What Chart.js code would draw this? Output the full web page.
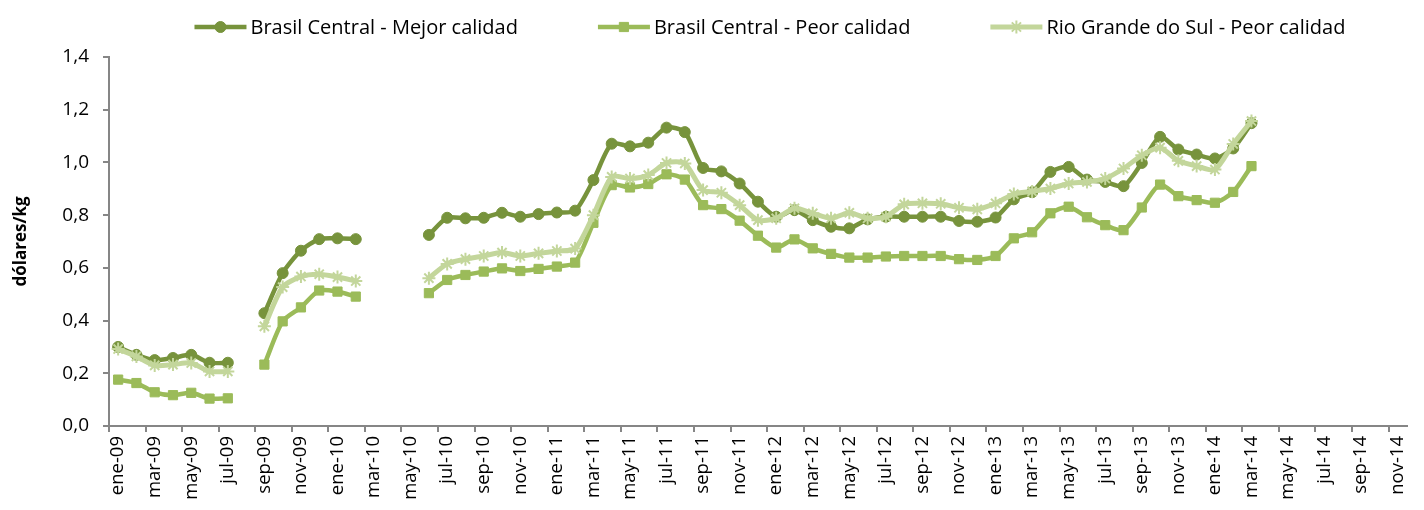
<!DOCTYPE html>
<html>
<head>
<meta charset="utf-8">
<script src="https://cdn.jsdelivr.net/npm/chart.js@4"></script>
<style>
  html, body { margin: 0; padding: 0; background: #fff; }
  #wrap { width: 1424px; height: 510px; }
</style>
</head>
<body>
<div id="wrap"><canvas id="chart" width="1424" height="510"></canvas></div>
<script>
// months ene-09 .. nov-14
var mesesCortos = ['ene','feb','mar','abr','may','jun','jul','ago','sep','oct','nov','dic'];
var anios = ['09','10','11','12','13','14'];
var meses = [];
for (var a = 0; a < anios.length; a++) {
    for (var m = 0; m < 12; m++) {
        meses.push(mesesCortos[m] + '-' + anios[a]);
    }
}
meses = meses.slice(0, 71);

var seriesNombres = ['Brasil Central - Mejor calidad', 'Brasil Central - Peor calidad', 'Rio Grande do Sul - Peor calidad'];

var bcMejor = [0.30,0.27,0.25,0.258,0.27,0.24,0.24,null,0.428,0.58,0.665,0.709,0.712,0.709,null,null,null,
    0.725,0.79,0.788,0.79,0.809,0.794,0.804,0.81,0.817,0.933,1.071,1.061,1.075,1.132,1.115,0.979,0.966,0.92,0.851,
    0.794,0.819,0.781,0.756,0.75,0.784,0.794,0.794,0.794,0.794,0.778,0.775,0.791,0.86,0.887,0.964,0.983,0.935,
    0.926,0.91,0.998,1.097,1.049,1.03,1.015,1.053,1.149,null,null,null,null,null,null,null,null];

var bcPeor = [0.176,0.163,0.128,0.117,0.126,0.104,0.105,null,0.233,0.397,0.45,0.514,0.51,0.491,null,null,null,
    0.504,0.554,0.573,0.586,0.598,0.588,0.596,0.605,0.62,0.771,0.914,0.905,0.918,0.955,0.935,0.838,0.823,0.779,0.722,
    0.677,0.708,0.674,0.653,0.639,0.639,0.643,0.645,0.645,0.645,0.633,0.63,0.645,0.712,0.735,0.807,0.832,0.792,
    0.762,0.743,0.829,0.916,0.872,0.857,0.847,0.888,0.986,null,null,null,null,null,null,null,null];

var rgsPeor = [0.292,0.264,0.23,0.233,0.239,0.207,0.207,null,0.378,0.527,0.567,0.576,0.565,0.55,null,null,null,
    0.561,0.615,0.633,0.645,0.658,0.645,0.655,0.664,0.673,0.80,0.945,0.939,0.952,0.998,0.996,0.895,0.885,0.838,0.781,
    0.788,0.826,0.807,0.788,0.809,0.788,0.794,0.841,0.845,0.843,0.828,0.822,0.845,0.88,0.89,0.901,0.92,0.926,
    0.939,0.977,1.027,1.056,1.006,0.986,0.973,1.07,1.157,null,null,null,null,null,null,null,null];

var colores = ['#77933C', '#9BBB59', '#C3D69B'];
var FONT = '"Open Sans", sans-serif';
var GRIS = '#868686';

// Excel-like legend: line with the marker in the middle, then the text
var excelLegend = {
    id: 'excelLegend',
    afterDraw: function(chart) {
        var ctx = chart.ctx;
        var lineLen = 52, gapText = 4, gapItem = 80;
        ctx.save();
        ctx.font = '20px ' + FONT;
        var items = chart.data.datasets.map(function(ds) {
            return { ds: ds, w: ctx.measureText(ds.label).width };
        });
        var total = 0;
        items.forEach(function(it, i) {
            total += lineLen + gapText + it.w + (i < items.length - 1 ? gapItem : 0);
        });
        var area = chart.chartArea;
        var x = (area.left + area.right) / 2 + 12 - total / 2;
        var y = 27;
        items.forEach(function(it) {
            var ds = it.ds;
            ctx.strokeStyle = ds.borderColor;
            ctx.lineWidth = ds.borderWidth;
            ctx.beginPath();
            ctx.moveTo(x, y);
            ctx.lineTo(x + lineLen, y);
            ctx.stroke();
            ctx.fillStyle = ds.pointBackgroundColor;
            ctx.strokeStyle = ds.pointBorderColor;
            ctx.lineWidth = ds.pointBorderWidth;
            Chart.helpers.drawPoint(ctx, {
                pointStyle: ds.pointStyle,
                radius: ds.pointRadius,
                borderWidth: ds.pointBorderWidth
            }, x + lineLen / 2, y);
            ctx.fillStyle = '#000';
            ctx.textBaseline = 'middle';
            ctx.fillText(ds.label, x + lineLen + gapText, y + 1);
            x += lineLen + gapText + it.w + gapItem;
        });
        ctx.restore();
    }
};

function dataset(i, values, style, radius, width) {
    return {
        label: seriesNombres[i],
        data: values,
        borderColor: colores[i],
        backgroundColor: colores[i],
        pointBackgroundColor: colores[i],
        pointBorderColor: colores[i],
        pointStyle: style,
        pointRadius: radius,
        pointBorderWidth: style === 'star' ? 2 : 1,
        borderWidth: width,
        tension: 0.25,
        spanGaps: false,
        order: 3 - i
    };
}

new Chart(document.getElementById('chart'), {
    type: 'line',
    data: {
        labels: meses,
        datasets: [
            dataset(0, bcMejor, 'circle', 5.5, 4.5),
            dataset(1, bcPeor, 'rect', 6.5, 4.5),
            dataset(2, rgsPeor, 'star', 6.5, 5)
        ]
    },
    plugins: [excelLegend],
    options: {
        responsive: false,
        animation: false,
        layout: { padding: { left: 0, right: 12, top: 57, bottom: 0 } },
        plugins: {
            tooltip: { enabled: false },
            legend: { display: false }
        },
        scales: {
            x: {
                offset: true,
                border: { color: GRIS, width: 2 },
                grid: {
                    offset: true,
                    drawOnChartArea: false,
                    drawTicks: true,
                    tickLength: 6,
                    lineWidth: 2,
                    color: function(ctx) { return ctx.index % 2 === 0 ? GRIS : 'rgba(0,0,0,0)'; }
                },
                ticks: {
                    autoSkip: false,
                    minRotation: 90,
                    maxRotation: 90,
                    color: '#000',
                    padding: 4,
                    font: { family: FONT, size: 18.5 },
                    callback: function(v, i) { return i % 2 === 0 ? meses[i] : ''; }
                },
                afterFit: function(scale) { scale.height = 84; }
            },
            y: {
                min: 0,
                max: 1.4,
                border: { color: GRIS, width: 2 },
                grid: { drawOnChartArea: false, drawTicks: true, tickLength: 6, color: GRIS, lineWidth: 2 },
                ticks: {
                    stepSize: 0.2,
                    color: '#000',
                    font: { family: FONT, size: 19 },
                    padding: 14,
                    callback: function(v) { return v.toFixed(1).replace('.', ','); }
                },
                title: {
                    display: true,
                    text: 'dólares/kg',
                    color: '#000',
                    padding: { top: 11, bottom: 4 },
                    font: { family: FONT, size: 17, weight: 'bold' }
                },
                afterFit: function(scale) { scale.width = 109; }
            }
        }
    }
});
</script>
</body>
</html>
